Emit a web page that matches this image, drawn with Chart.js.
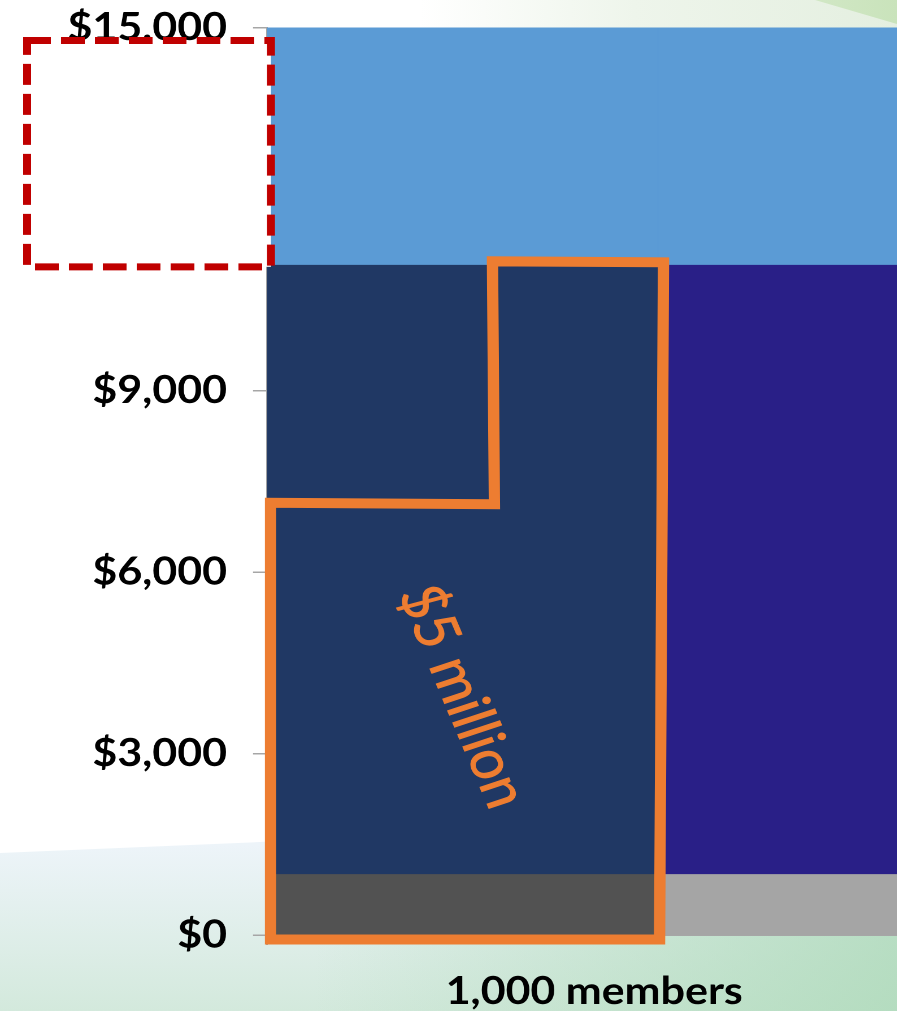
<!DOCTYPE html>
<html>
<head>
<meta charset="utf-8">
<script src="https://cdn.jsdelivr.net/npm/chart.js@4.4.1/dist/chart.umd.min.js"></script>
<style>
  html, body { margin: 0; padding: 0; width: 897px; height: 1011px; overflow: hidden; background: #ffffff; }
  #bgBottom {
    position: absolute; left: 0; top: 790px; width: 897px; height: 221px;
    clip-path: polygon(0 63px, 260px 52px, 600px 32px, 897px 5px, 897px 221px, 0 221px);
    background:
      linear-gradient(to right, rgba(175,218,185,0) 35%, rgba(170,216,182,0.75) 100%),
      linear-gradient(to bottom, #edf4f9 25%, #d3e9dc 100%);
  }
  #bgTop {
    position: absolute; left: 420px; top: 0; width: 477px; height: 30px;
    background: linear-gradient(to right, rgba(240,246,238,0) 0%, #eef5eb 45%, #e4efe0 100%);
  }
  #bgWedge {
    position: absolute; left: 0; top: 0; width: 897px; height: 30px;
    clip-path: polygon(815px 0, 897px 0, 897px 24px);
    background: linear-gradient(to right, #d6eacb 85%, #c9e3bb 100%);
  }
  #clip { position: absolute; left: 0; top: 0; width: 897px; height: 1011px; overflow: hidden; }
  #wrap {
    position: absolute; left: 0; top: 0; width: 801px; height: 1011px;
    transform: scaleX(1.13); transform-origin: 0 0;
  }
</style>
</head>
<body>
<div id="bgBottom"></div>
<div id="bgTop"></div>
<div id="bgWedge"></div>
<div id="clip"><div id="wrap"><canvas id="c"></canvas></div></div>
<script>
// ---- data ----
const barCenters = [0.5, 1.5];                 // bar positions on the member axis (bar widths)
const yTickValues = [0, 3000, 6000, 9000, 12000, 15000];
const baseCost = [1000, 1000];                 // grey floor segment
const middleCost = [10070, 10070];             // dark middle segment
const topCost = [3930, 3930];                  // light blue top segment
const xLabel = '1,000 members';
const xLabelValue = 0.836;
const outlineX = [0.009, 0.009, 0.581, 0.576, 1.013, 1.003];
const outlineY = [-74, 7145, 7120, 11135, 11119, -74];
const calloutText = '$5 million';
const calloutPoint = [0.5, 3940];
const hiddenRange = [11044, 14786];            // dashed box covering the $12,000 label

// ---- styles ----
const FONT = 'Lato';
const orange = '#ED7D31';
const axisGrey = '#a6a6a6';

function toPoints(xs, ys) { return xs.map((x, i) => ({ x: x, y: ys[i] })); }
const outlinePts = toPoints(outlineX, outlineY);
outlinePts.push(outlinePts[0], outlinePts[1]);

function barSet(label, values, colors) {
  return {
    type: 'bar', label: label, xAxisID: 'x', yAxisID: 'y',
    data: barCenters.map((x, i) => ({ x: x, y: values[i] })),
    backgroundColor: colors, borderWidth: 0,
    barPercentage: 1, categoryPercentage: 1, order: 1
  };
}

const calloutPlugin = {
  id: 'callout',
  afterDatasetsDraw(chart) {
    const { ctx, scales: { x, y } } = chart;
    ctx.save();
    ctx.translate(x.getPixelForValue(calloutPoint[0]), y.getPixelForValue(calloutPoint[1]));
    ctx.rotate(69.5 * Math.PI / 180);
    ctx.font = '400 54px ' + FONT;
    ctx.fillStyle = orange;
    ctx.strokeStyle = orange;
    ctx.lineWidth = 0.8;
    ctx.textAlign = 'center';
    ctx.textBaseline = 'middle';
    ctx.fillText(calloutText, 0, 0);
    ctx.strokeText(calloutText, 0, 0);
    ctx.restore();
  }
};

const boxPlugin = {
  id: 'dashBox',
  afterDraw(chart) {
    const { ctx, scales: { y }, chartArea } = chart;
    const top = y.getPixelForValue(hiddenRange[1]);
    const bottom = y.getPixelForValue(hiddenRange[0]);
    const left = 24, right = chartArea.left + 3.5;
    ctx.save();
    ctx.fillStyle = '#ffffff';
    ctx.fillRect(left, top, right - left, bottom - top);
    ctx.setLineDash([21, 9]);
    ctx.lineWidth = 7;
    ctx.strokeStyle = '#C00000';
    ctx.strokeRect(left, top, right - left, bottom - top);
    ctx.restore();
  }
};

function zeroPad(s) { s.paddingTop = 0; s.paddingBottom = 0; s.paddingLeft = 0; s.paddingRight = 0; }

function build() {
  new Chart(document.getElementById('c'), {
    data: {
      datasets: [
        barSet('Base', baseCost, ['#525252', '#a5a5a5']),
        barSet('Middle', middleCost, ['#203864', '#291f87']),
        barSet('Top', topCost, ['#5b9bd5', '#5b9bd5']),
        {
          type: 'line', label: 'Outline', data: outlinePts, xAxisID: 'x', yAxisID: 'y',
          borderColor: orange, borderWidth: 10, pointRadius: 0, fill: false,
          tension: 0, clip: false, borderJoinStyle: 'miter', order: 0
        }
      ]
    },
    options: {
      responsive: true, maintainAspectRatio: false, animation: false,
      devicePixelRatio: 2,
      layout: { padding: { top: 27.5, left: 0, right: 0, bottom: 0 } },
      plugins: { legend: { display: false }, tooltip: { enabled: false } },
      scales: {
        x: {
          type: 'linear', position: 'bottom', stacked: true, min: 0, max: 1.616,
          offset: false, bounds: 'data',
          afterBuildTicks: (s) => { s.ticks = [{ value: 0 }]; },
          afterFit: (s) => { s.height = 10; zeroPad(s); },
          ticks: { display: false },
          grid: { offset: false, drawOnChartArea: false, drawTicks: true, tickLength: 10, color: axisGrey, lineWidth: 1.5 },
          border: { display: true, color: axisGrey, width: 1.5 }
        },
        xl: {
          type: 'linear', position: 'bottom', min: 0, max: 1.616,
          offset: false, bounds: 'data',
          afterBuildTicks: (s) => { s.ticks = [{ value: xLabelValue }]; },
          afterFit: (s) => { s.height = 66; zeroPad(s); },
          ticks: {
            autoSkip: false, maxRotation: 0, padding: 24, color: '#000',
            font: { family: FONT, weight: '700', size: 38, lineHeight: 1.2 },
            callback: () => xLabel
          },
          grid: { display: false, drawTicks: false, offset: false },
          border: { display: false }
        },
        y: {
          stacked: true, min: 0, max: 15000,
          afterBuildTicks: (s) => { s.ticks = yTickValues.map(v => ({ value: v })); },
          afterFit: (s) => { s.width = 236.3; zeroPad(s); },
          ticks: {
            padding: 23, color: '#000',
            font: { family: FONT, weight: '700', size: 38, lineHeight: 1.2 },
            callback: (v) => '$' + Number(v).toLocaleString('en-US')
          },
          grid: { drawOnChartArea: false, drawTicks: true, tickLength: 12.4, color: axisGrey, lineWidth: 1.5 },
          border: { display: true, color: axisGrey, width: 1.5 }
        }
      }
    },
    plugins: [calloutPlugin, boxPlugin]
  });
}

Promise.all([
  document.fonts.load('700 38px Lato'),
  document.fonts.load('400 54px Lato')
]).then(build, build);
</script>
</body>
</html>
